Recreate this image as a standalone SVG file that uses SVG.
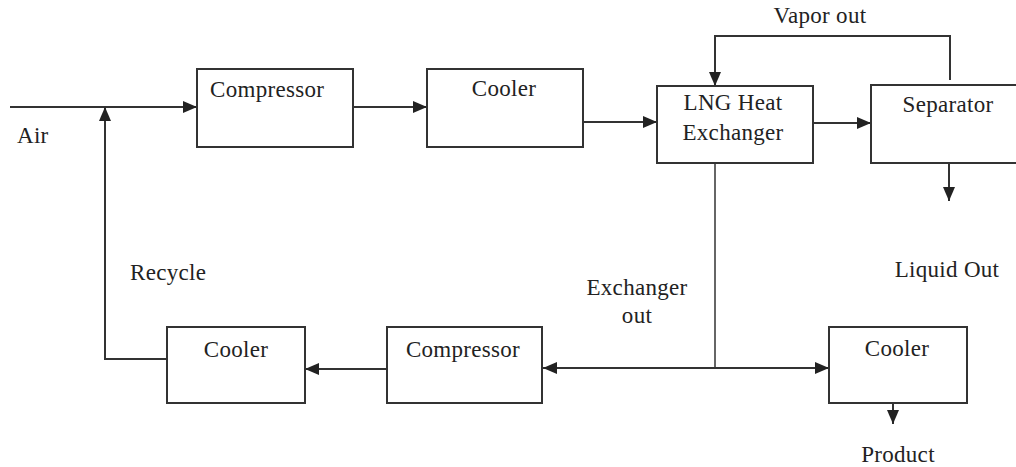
<svg xmlns="http://www.w3.org/2000/svg" width="1016" height="467" viewBox="0 0 1016 467">
<style>
.box{fill:#fff;stroke:#333;stroke-width:2}
.ln{fill:none;stroke:#333;stroke-width:2}
.gl{fill:none;stroke:#666;stroke-width:2}
text{font-family:"Liberation Serif","Times New Roman",serif;font-size:23px;letter-spacing:0.3px;fill:#222}
.c{text-anchor:middle}
</style>
<defs>
<marker id="ah" markerUnits="userSpaceOnUse" markerWidth="14" markerHeight="12" viewBox="0 0 14 12" refX="14" refY="6" orient="auto">
<path d="M0,0 L14,6 L0,12 Z" fill="#222"/>
</marker>
</defs>
<rect width="1016" height="467" fill="#fff"/>
<g id="connectors">
<line class="ln" x1="10" y1="107" x2="197" y2="107" marker-end="url(#ah)"/>
<path class="ln" d="M167,359 H105 V107" marker-end="url(#ah)"/>
<line class="ln" x1="354" y1="107" x2="427" y2="107" marker-end="url(#ah)"/>
<line class="ln" x1="583" y1="122" x2="657" y2="122" marker-end="url(#ah)"/>
<line class="ln" x1="813" y1="123" x2="871" y2="123" marker-end="url(#ah)"/>
<path class="ln" d="M950,80 V36 H715 V86" marker-end="url(#ah)"/>
<line class="ln" x1="949" y1="163" x2="949" y2="201" marker-end="url(#ah)"/>
<line class="gl" x1="715" y1="163" x2="715" y2="368"/>
<line class="ln" x1="715" y1="368" x2="543" y2="368" marker-end="url(#ah)"/>
<line class="ln" x1="715" y1="368" x2="829" y2="368" marker-end="url(#ah)"/>
<line class="ln" x1="387" y1="369" x2="305" y2="369" marker-end="url(#ah)"/>
<line class="ln" x1="893" y1="403" x2="893" y2="424" marker-end="url(#ah)"/>
</g>
<g id="compressor1"><rect class="box" x="197" y="69" width="156" height="78"/><text x="210" y="97">Compressor</text></g>
<g id="cooler1"><rect class="box" x="427" y="69" width="156" height="78"/><text class="c" x="504" y="96">Cooler</text></g>
<g id="lng"><rect class="box" x="657" y="86" width="156" height="77"/><text class="c" x="733" y="110">LNG Heat</text><text class="c" x="733" y="140">Exchanger</text></g>
<g id="separator"><rect class="box" x="871" y="85" width="150" height="78"/><text class="c" x="948" y="112">Separator</text></g>
<g id="cooler2"><rect class="box" x="167" y="327" width="138" height="76"/><text class="c" x="236" y="357">Cooler</text></g>
<g id="compressor2"><rect class="box" x="387" y="327" width="155" height="76"/><text class="c" x="463" y="357">Compressor</text></g>
<g id="cooler3"><rect class="box" x="829" y="327" width="138" height="76"/><text class="c" x="897" y="356">Cooler</text></g>
<g id="labels">
<text x="17" y="143">Air</text>
<text class="c" x="820" y="23">Vapor out</text>
<text x="130" y="280">Recycle</text>
<text class="c" x="637" y="295">Exchanger</text>
<text class="c" x="637" y="323">out</text>
<text class="c" x="947" y="277">Liquid Out</text>
<text class="c" x="898" y="462">Product</text>
</g>
</svg>
